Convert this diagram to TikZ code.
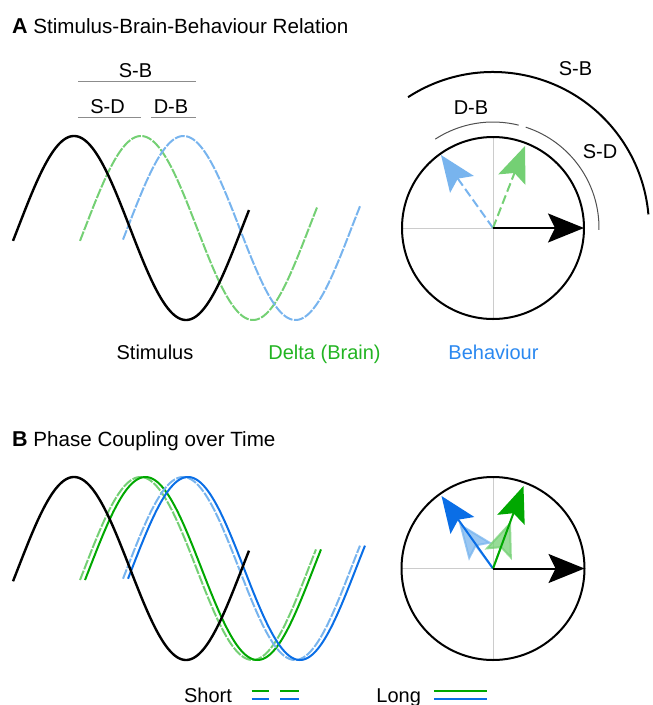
\documentclass[tikz,border=0pt]{standalone}
\usepackage{fontspec}
\setmainfont{Liberation Sans}
\usetikzlibrary{arrows.meta}
\definecolor{lgreen}{HTML}{74D074}
\definecolor{lblue}{HTML}{78B4EE}
\definecolor{dgreen}{HTML}{00A800}
\definecolor{dblue}{HTML}{0A6EE6}
\definecolor{tgreen}{HTML}{22B422}
\definecolor{tblue}{HTML}{2A88F0}
\definecolor{axisgray}{HTML}{CCCCCC}
\definecolor{bargray}{HTML}{8C8C8C}
\definecolor{arcgray}{HTML}{505050}
\begin{document}
\begin{tikzpicture}[x=1pt,y=1pt,
  every node/.style={font=\fontsize{20}{24}\selectfont, inner sep=0pt, anchor=base},
  paneltitle/.style={anchor=base west, font=\fontsize{20.6}{24}\selectfont},
  wave/.style={line width=2pt, samples=150, smooth},
  blackwave/.style={wave, line width=2.4pt, black},
  shortdash/.style={dash pattern=on 10pt off 1.5pt},
  ring/.style={line width=2pt, black},
  axisline/.style={axisgray, line width=1pt},
  barline/.style={bargray, line width=1.2pt},
  bigtip/.style={-{Stealth[length=36pt,width=29pt,inset=7pt]}},
  phasearrow/.style={bigtip, line width=2pt},
  legline/.style={line width=2pt}
]
\path[use as bounding box] (0,0) rectangle (653,-705);

% ---------------- Panel A ----------------
\node[paneltitle] (titleA) at (12,-33.5) {{\fontsize{21.5}{24}\selectfont\bfseries A} Stimulus-Brain-Behaviour Relation};

\node (sbtop) at (135.5,-77.3) {S-B};
\draw[barline] (78,-81.7) -- (195.7,-81.7);
\node (sdtop) at (107.5,-113.3) {S-D};
\draw[barline] (78,-117.7) -- (141.3,-117.7);
\node (dbtop) at (171,-113.3) {D-B};
\draw[barline] (151,-117.7) -- (195.7,-117.7);

\draw[wave, lgreen, shortdash] plot[domain=80:317] (\x,{-228+92*sin((\x-85)/224*360)});
\draw[wave, lblue, shortdash] plot[domain=123:360] (\x,{-228+92*sin((\x-127.5)/224*360)});
\draw[blackwave] plot[domain=13:249] (\x,{-228+92*sin((\x-18)/224*360)});

\node (stimA) at (155,-359) {Stimulus};
\node[text=tgreen] (deltaA) at (324.5,-359) {Delta (Brain)};
\node[text=tblue] (behavA) at (493.5,-359) {Behaviour};

\coordinate (cA) at (493,-228);
\draw[axisline] (401.5,-228) -- (cA);
\draw[axisline] (493,-137) -- (493,-319);
\draw[ring] (cA) circle (91);
\draw[line width=2pt] (cA) ++(123:156) arc[start angle=123, end angle=5, radius=156];
\draw[arcgray, line width=1pt] (cA) ++(123:106) arc[start angle=123, end angle=76, radius=106];
\draw[arcgray, line width=1pt] (cA) ++(72:106) arc[start angle=72, end angle=-1, radius=106];
\node (sbA) at (575.5,-75) {S-B};
\node (dbA) at (471,-114) {D-B};
\node (sdA) at (600,-158) {S-D};

\coordinate (blueA) at (441,-155);
\coordinate (greenA) at (525,-146);
\coordinate (stimtipA) at (584,-228);
\draw[phasearrow, lblue, dash pattern=on 9pt off 4pt] (cA) -- (blueA);
\draw[phasearrow, lgreen, dash pattern=on 9pt off 4pt] (cA) -- (greenA);
\draw[phasearrow, black] (cA) -- (stimtipA);

% ---------------- Panel B ----------------
\node[paneltitle] (titleB) at (12,-446) {{\fontsize{21.5}{24}\selectfont\bfseries B} Phase Coupling over Time};

\draw[wave, lgreen, shortdash] plot[domain=80:316] (\x,{-568.5+91.5*sin((\x-84.5)/224*360)});
\draw[wave, dgreen] plot[domain=85:321] (\x,{-568.5+91.5*sin((\x-89.5)/224*360)});
\draw[wave, lblue, shortdash] plot[domain=123:360] (\x,{-568.5+91.5*sin((\x-127)/224*360)});
\draw[wave, dblue] plot[domain=128:365] (\x,{-568.5+91.5*sin((\x-132)/224*360)});
\draw[blackwave] plot[domain=13:249] (\x,{-568.5+91.5*sin((\x-18)/224*360)});

\coordinate (cB) at (493,-568.5);
\draw[axisline] (401.5,-568.5) -- (cB);
\draw[axisline] (493,-477) -- (493,-660);
\draw[ring] (cB) circle (91.5);

\coordinate (lblueB) at (459,-523);
\coordinate (lgreenB) at (511,-521);
\coordinate (blueB) at (441.5,-496);
\coordinate (greenB) at (523.5,-486);
\coordinate (stimtipB) at (584.5,-568.5);
\draw[phasearrow, lblue, opacity=0.75] (cB) -- (lblueB);
\draw[phasearrow, lgreen, opacity=0.75] (cB) -- (lgreenB);
\draw[phasearrow, dblue] (cB) -- (blueB);
\draw[phasearrow, dgreen] (cB) -- (greenB);
\draw[phasearrow, black] (cB) -- (stimtipB);

% legend
\node (short) at (208,-702) {Short};
\draw[legline, dgreen] (251.7,-690.7) -- (269.3,-690.7);
\draw[legline, dgreen] (280,-690.7) -- (299.3,-690.7);
\draw[legline, dblue] (251.7,-699) -- (269.3,-699);
\draw[legline, dblue] (280,-699) -- (299.3,-699);
\node (long) at (398.7,-702) {Long};
\draw[legline, dgreen] (434,-690.7) -- (487.3,-690.7);
\draw[legline, dblue] (434,-699) -- (487.3,-699);
\end{tikzpicture}
\end{document}
